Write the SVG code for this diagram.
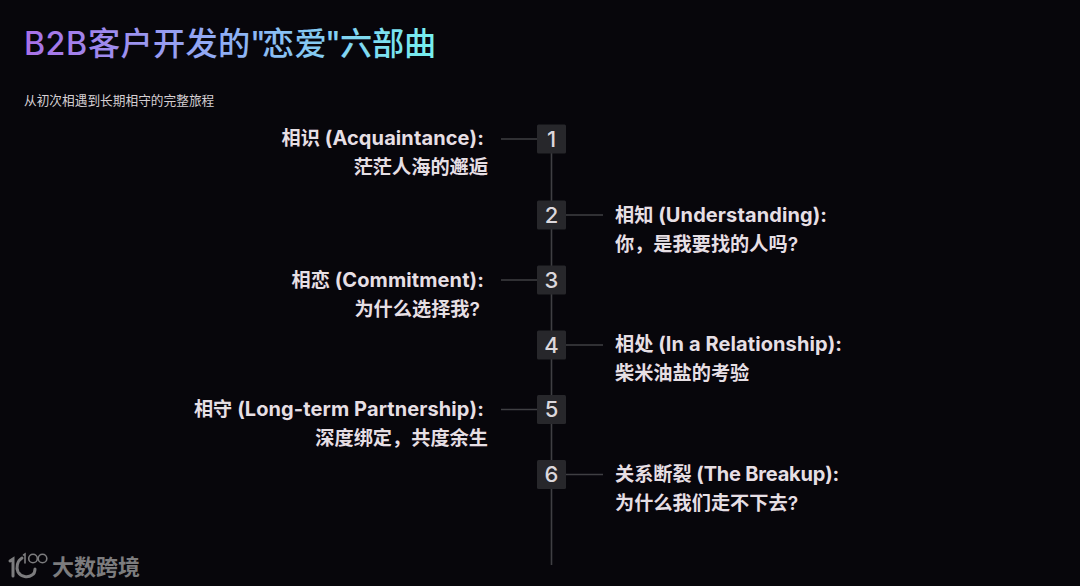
<svg xmlns="http://www.w3.org/2000/svg" width="1080" height="586" viewBox="0 0 1080 586">
<defs>
<linearGradient id="tg" gradientUnits="userSpaceOnUse" x1="24" y1="0" x2="434" y2="0"><stop offset="0" stop-color="#a970e8"/><stop offset="0.5" stop-color="#8fb0f5"/><stop offset="1" stop-color="#76f0ee"/></linearGradient>
</defs>
<style>
text{font-family:"Inter","Noto Sans CJK SC","Noto Sans",sans-serif}
.t{font-size:19.2px;font-weight:600;fill:#e6dfe4}
.t tspan{font-size:20px;font-weight:700;letter-spacing:.1px}
.e{text-anchor:end}
.n rect{fill:#27272b}
.n text{font-size:22px;font-weight:500;fill:#dcd8dc;text-anchor:middle}
.c line{stroke:#3f3f43;stroke-width:1.6}
.w{font-size:22px;font-weight:700;fill:#7c7c7e}
</style>
<rect width="1080" height="586" fill="#07060b"/>
<text x="24 45.500 66 88 120.500 153 185.500 218 250 262 294.500 325 340 372 404" y="55" font-size="32.200" font-weight="500" fill="url(#tg)">B2B客户开发的"恋爱"六部曲</text>
<text x="24" y="105" font-size="12.7" fill="#d6d0d4">从初次相遇到长期相守的完整旅程</text>
<g id="connectors" class="c">
<line x1="551.5" y1="139" x2="551.5" y2="565"/>
<line x1="501" y1="139" x2="537" y2="139"/>
<line x1="566" y1="215" x2="603" y2="215"/>
<line x1="501" y1="280" x2="537" y2="280"/>
<line x1="566" y1="345" x2="603" y2="345"/>
<line x1="501" y1="409.500" x2="537" y2="409.500"/>
<line x1="566" y1="474.500" x2="603" y2="474.500"/>
</g>
<g id="node1" class="n"><rect x="537" y="124.500" width="29" height="29" rx="1.500"/><text x="551.500" y="146.500">1</text></g>
<g id="node2" class="n"><rect x="537" y="200.500" width="29" height="29" rx="1.500"/><text x="551.500" y="222.500">2</text></g>
<g id="node3" class="n"><rect x="537" y="265.500" width="29" height="29" rx="1.500"/><text x="551.500" y="287.500">3</text></g>
<g id="node4" class="n"><rect x="537" y="330.500" width="29" height="29" rx="1.500"/><text x="551.500" y="352.500">4</text></g>
<g id="node5" class="n"><rect x="537" y="395" width="29" height="29" rx="1.500"/><text x="551.500" y="417">5</text></g>
<g id="node6" class="n"><rect x="537" y="460" width="29" height="29" rx="1.500"/><text x="551.500" y="482">6</text></g>
<g id="label1"><text class="t e" x="484" y="145">相识<tspan> (Acquaintance):</tspan></text><text class="t e" x="488" y="174">茫茫人海的邂逅</text></g>
<g id="label2"><text class="t" x="615" y="221.500">相知<tspan> (Understanding):</tspan></text><text class="t" x="615" y="250.500">你，是我要找的人吗?</text></g>
<g id="label3"><text class="t e" x="484" y="286.500">相恋<tspan> (Commitment):</tspan></text><text class="t e" x="480" y="315.500">为什么选择我?</text></g>
<g id="label4"><text class="t" x="615" y="351">相处<tspan> (In a Relationship):</tspan></text><text class="t" x="615" y="380">柴米油盐的考验</text></g>
<g id="label5"><text class="t e" x="484" y="416">相守<tspan> (Long-term Partnership):</tspan></text><text class="t e" x="488" y="445">深度绑定，共度余生</text></g>
<g id="label6"><text class="t" x="615" y="480.500">关系断裂<tspan style="letter-spacing:-.2px"> (The Breakup):</tspan></text><text class="t" x="615" y="510">为什么我们走不下去?</text></g>
<g id="watermark">
<g fill="none" stroke="#7c7c7e" stroke-width="3" stroke-linecap="round">
<path d="M10 561l3-2v17"/>
<path d="M22 558c-5 3-6 10-4 14 3 5 10 6 14 3 2-1 3-4 3-6"/>
<path d="M23.500 555l1.500-1v9" stroke-width="1.600"/>
<circle cx="33" cy="558.500" r="4.300" stroke-width="1.600"/>
<circle cx="42.500" cy="558.500" r="4.300" stroke-width="1.600"/>
</g>
<text class="w" x="52" y="575">大数跨境</text>
</g>
</svg>
